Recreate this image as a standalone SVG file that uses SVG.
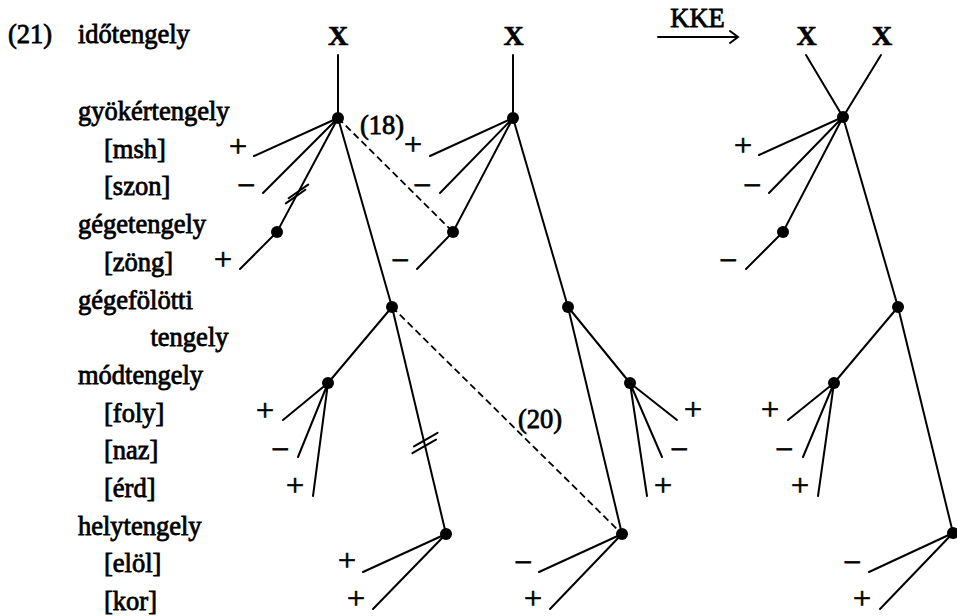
<svg xmlns="http://www.w3.org/2000/svg" width="957" height="616" viewBox="0 0 957 616">
<style>
.t{font-family:"Liberation Serif","Times New Roman",serif;font-size:26.5px;fill:#000;stroke:#000;stroke-width:0.8}
.s{font-family:"Liberation Serif","Times New Roman",serif;font-size:32px;fill:#000;stroke:#000;stroke-width:0.7;text-anchor:middle}
.x{font-family:"Liberation Serif","Times New Roman",serif;font-size:28px;font-weight:bold;fill:#000;stroke:#000;stroke-width:0.6;text-anchor:middle}
.ln{stroke:#000;stroke-width:2;fill:none;stroke-linecap:round}
.dl{stroke:#000;stroke-width:1.8;fill:none;stroke-dasharray:7 4}
.nd{fill:#000}
</style>
<rect width="957" height="616" fill="#fff"/>
<g id="labels">
<text class="t" x="8" y="43">(21)</text>
<text class="t" x="78" y="43">időtengely</text>
<text class="t" x="78" y="120">gyökértengely</text>
<text class="t" x="104" y="157.7">[msh]</text>
<text class="t" x="104" y="195.4">[szon]</text>
<text class="t" x="78" y="233.1">gégetengely</text>
<text class="t" x="104" y="270.8">[zöng]</text>
<text class="t" x="78" y="308.5">gégefölötti</text>
<text class="t" x="150.5" y="346.2">tengely</text>
<text class="t" x="78" y="383.9">módtengely</text>
<text class="t" x="104" y="421.6">[foly]</text>
<text class="t" x="104" y="459.3">[naz]</text>
<text class="t" x="104" y="497">[érd]</text>
<text class="t" x="78" y="534.7">helytengely</text>
<text class="t" x="104" y="572.4">[elöl]</text>
<text class="t" x="104" y="610.1">[kor]</text>
</g>
<g id="kke">
<text class="t" x="697.5" y="27" text-anchor="middle" font-size="25">KKE</text>
<path class="ln" d="M658 37 H738 M730 31 L738 37 L730 43" stroke-width="1.8"/>
</g>
<g id="rule-labels">
<text class="t" x="360" y="134">(18)</text>
<text class="t" x="518" y="428">(20)</text>
</g>
<g id="connectors">
<path class="ln" d="M338 55 L338 118"/>
<path class="ln" d="M338 118 L254 156 M338 118 L263 193 M338 118 L277 232 L240 269 M338 118 L392 307 M392 307 L328 383 M392 307 L446 534"/>
<path class="ln" d="M328 383 L283 420 M328 383 L298 457 M328 383 L313 496"/>
<path class="ln" d="M446 534 L363 572 M446 534 L373 609"/>
<path class="ln" d="M288.6 198.2 L308.2 184.6 M285.8 203.4 L305.4 189.8" stroke-width="1.7"/>
<path class="ln" d="M414 446.4 L437.6 432.8 M412.4 453.2 L436 439.6" stroke-width="1.7"/>
<path class="ln" d="M513 55 L513 118"/>
<path class="ln" d="M513 118 L430 156 M513 118 L440 193 M513 118 L453 232 L417 269 M513 118 L568 307 M568 307 L630 383 M568 307 L622 534"/>
<path class="ln" d="M630 383 L677 420 M630 383 L662 457 M630 383 L647 496"/>
<path class="ln" d="M622 534 L539 572 M622 534 L550 609"/>
<path class="ln" d="M806 55 L843 117 M881 55 L843 117"/>
<path class="ln" d="M843 117 L759 155 M843 117 L769 193 M843 117 L783 232 L746 269 M843 117 L898 307 M898 307 L834 383 M898 307 L953 533"/>
<path class="ln" d="M834 383 L788 420 M834 383 L803 457 M834 383 L818 496"/>
<path class="ln" d="M953 533 L869 572 M953 533 L880 609"/>
<path class="dl" d="M338 118 L453 232"/>
<path class="dl" d="M392 307 L622 534"/>
</g>
<g id="tree1">
<text class="x" x="338" y="45">X</text>
<circle id="t1-root" class="nd" cx="338" cy="118" r="6"/>
<circle id="t1-gege" class="nd" cx="277" cy="232" r="6"/>
<circle id="t1-gf" class="nd" cx="392" cy="307" r="6"/>
<circle id="t1-mod" class="nd" cx="328" cy="383" r="6"/>
<circle id="t1-hely" class="nd" cx="446" cy="534" r="6"/>
<text class="s" x="238" y="157">+</text>
<text class="s" x="246" y="196">−</text>
<text class="s" x="223" y="270">+</text>
<text class="s" x="265" y="421">+</text>
<text class="s" x="280" y="460">−</text>
<text class="s" x="295" y="496">+</text>
<text class="s" x="347" y="571">+</text>
<text class="s" x="356" y="609">+</text>
</g>
<g id="tree2">
<text class="x" x="513.5" y="45">X</text>
<circle id="t2-root" class="nd" cx="513" cy="118" r="6"/>
<circle id="t2-gege" class="nd" cx="453" cy="232" r="6"/>
<circle id="t2-gf" class="nd" cx="568" cy="307" r="6"/>
<circle id="t2-mod" class="nd" cx="630" cy="383" r="6"/>
<circle id="t2-hely" class="nd" cx="622" cy="534" r="6"/>
<text class="s" x="413" y="155">+</text>
<text class="s" x="422" y="196">−</text>
<text class="s" x="400" y="271">−</text>
<text class="s" x="693" y="420">+</text>
<text class="s" x="679" y="460">−</text>
<text class="s" x="663" y="496">+</text>
<text class="s" x="523" y="573">−</text>
<text class="s" x="533" y="609">+</text>
</g>
<g id="tree3">
<text class="x" x="806.7" y="45">X</text>
<text class="x" x="882" y="45">X</text>
<circle id="t3-root" class="nd" cx="843" cy="117" r="6"/>
<circle id="t3-gege" class="nd" cx="783" cy="232" r="6"/>
<circle id="t3-gf" class="nd" cx="898" cy="307" r="6"/>
<circle id="t3-mod" class="nd" cx="834" cy="383" r="6"/>
<circle id="t3-hely" class="nd" cx="953" cy="533" r="6"/>
<text class="s" x="743" y="156">+</text>
<text class="s" x="752" y="196">−</text>
<text class="s" x="728" y="271">−</text>
<text class="s" x="770" y="420">+</text>
<text class="s" x="784" y="460">−</text>
<text class="s" x="800" y="496">+</text>
<text class="s" x="852" y="573">−</text>
<text class="s" x="862" y="609">+</text>
</g>
</svg>
